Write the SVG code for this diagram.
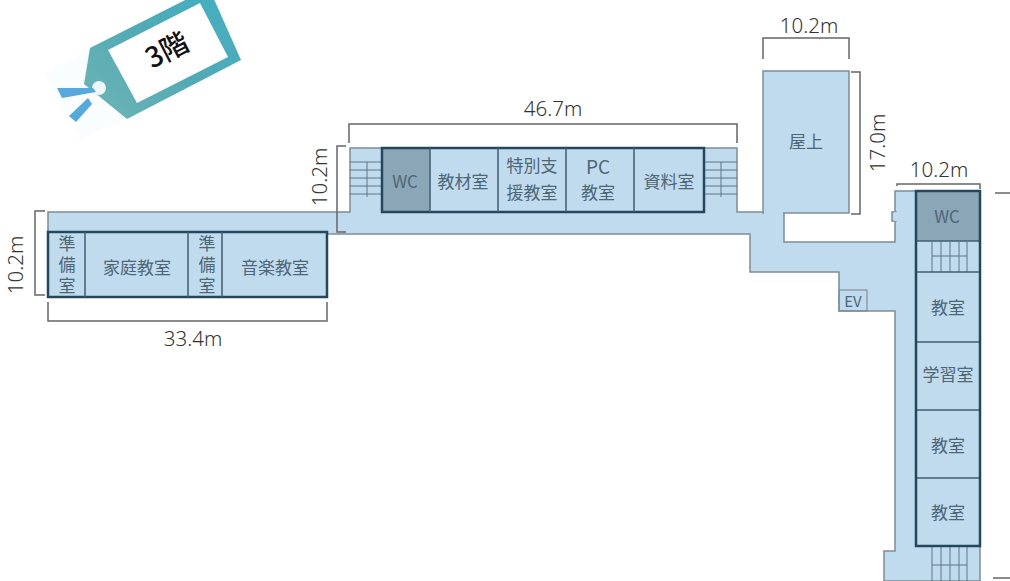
<svg xmlns="http://www.w3.org/2000/svg" width="1010" height="581" viewBox="0 0 1010 581">
<style>
.floor{fill:#c0dbed;stroke:#7d8d96;stroke-width:1.5}
.block{fill:none;stroke:#24475e;stroke-width:2.5}
.wc{fill:#8ba6b6;stroke:none}
.div{stroke:#3f5f73;stroke-width:1.5;fill:none}
.stair{stroke:#5d7686;stroke-width:1;fill:none}
.dim{stroke:#666;stroke-width:1.5;fill:none}
.t{font-family:"Noto Sans CJK JP","Noto Sans",sans-serif;font-size:17px;fill:#4f6676;text-anchor:middle}
.v{font-family:"Noto Sans CJK JP","Noto Sans",sans-serif;font-size:17px;fill:#4f6676;writing-mode:vertical-rl;letter-spacing:4px}
.d{font-family:"Noto Sans",sans-serif;font-size:20.5px;font-weight:300;fill:#333;text-anchor:middle}
</style>
<defs>
<linearGradient id="tagfill" x1="0" y1="1" x2="1" y2="0">
<stop offset="0" stop-color="#6fb5b5"/><stop offset="0.5" stop-color="#52aab5"/><stop offset="1" stop-color="#3fb0c4"/>
</linearGradient>
</defs>
<g id="tag">
<polygon points="45,72 88,50 128,118 80,140" fill="#fafdfd"/>
<polygon points="90,48 209,-12 241,60 127,119 84,84" fill="url(#tagfill)"/>
<polygon points="108,50 200,3 228,57 137,103" fill="#fff"/>
<circle cx="99" cy="88" r="7" fill="#eef7f8"/>
<polygon points="57,88 93,88 96,92 62,98" fill="#55a9dc"/>
<polygon points="69,116 88,98 92,104 76,122" fill="#55a9dc"/>
<text x="167" y="60" transform="rotate(-27.5 167 50)" font-family="'Noto Sans CJK JP',sans-serif" font-size="28" font-weight="500" fill="#111" text-anchor="middle">3階</text>
</g>
<g id="floor-plan">
<path class="floor" d="M48,212 H350 V148 H737 V212 H784 V242 H895 V191 H980 V581 H884 V551 H895 V311 H839 V272 H750 V234 H327 V297 H48 Z"/>
<rect class="floor" x="763" y="71" width="86" height="142"/>
<rect x="764" y="205" width="19" height="12" fill="#c0dbed"/>
<rect class="floor" x="892" y="212" width="4" height="9"/>
<rect x="894" y="212" width="3" height="9" fill="#c0dbed"/>
</g>
<g id="stairs">
<path class="stair" d="M350,162 H382 M350,170 H382 M350,178 H382 M350,186 H382 M350,194 H382 M367,162 V197"/>
<path class="stair" d="M704,162 H737 M704,170 H737 M704,178 H737 M704,186 H737 M704,194 H737 M721,162 V197"/>
<path class="stair" d="M932,242 V272 M941,242 V272 M950,242 V272 M959,242 V272 M967,242 V272 M932,256 H967"/>
<path class="stair" d="M932,547 V581 M941,547 V581 M950,547 V581 M959,547 V581 M967,547 V581 M932,565 H967"/>
</g>
<g id="room-south-wing">
<rect class="block" x="48" y="232" width="279" height="65"/>
<path class="div" d="M85,232 V297 M188,232 V297 M222,232 V297"/>
<text class="v" x="67" y="235">準備室</text>
<text class="t" x="137" y="274">家庭教室</text>
<text class="v" x="207" y="235">準備室</text>
<text class="t" x="275" y="274">音楽教室</text>
</g>
<g id="room-center-wing">
<rect class="wc" x="382" y="148" width="48" height="64"/>
<rect class="block" x="382" y="148" width="322" height="64"/>
<path class="div" d="M430,148 V212 M498,148 V212 M566,148 V212 M634,148 V212"/>
<text class="t" x="405" y="188">WC</text>
<text class="t" x="463" y="188">教材室</text>
<text class="t" x="532" y="172">特別支</text><text class="t" x="532" y="199">援教室</text>
<text class="t" x="598" y="174" style="font-size:19px">PC</text><text class="t" x="598" y="199">教室</text>
<text class="t" x="669" y="188">資料室</text>
</g>
<g id="room-roof"><text class="t" x="806" y="148">屋上</text></g>
<g id="room-ev">
<rect x="839" y="290" width="28" height="21" fill="none" stroke="#7d8d96" stroke-width="1.2"/>
<text class="t" x="853" y="307" style="font-size:15px">EV</text>
</g>
<g id="room-east-wing">
<rect class="wc" x="916" y="191" width="64" height="50"/>
<path class="div" d="M916,241 H980 M916,272 H980 M916,342 H980 M916,410 H980 M916,478 H980"/>
<rect class="block" x="916" y="191" width="64" height="355"/>
<text class="t" x="947" y="223">WC</text>
<text class="t" x="948" y="314">教室</text>
<text class="t" x="948" y="381">学習室</text>
<text class="t" x="948" y="452">教室</text>
<text class="t" x="948" y="519">教室</text>
</g>
<g id="dimensions">
<path class="dim" d="M349,143 V124 H737 V143"/>
<path class="dim" d="M48,302 V321 H327 V302"/>
<path class="dim" d="M45,211 H35 V295 H45"/>
<path class="dim" d="M346,146 H337 V232 H346"/>
<path class="dim" d="M763,59 V38 H849 V59"/>
<path class="dim" d="M851,72 H860 V214 H851"/>
<path class="dim" d="M897,186 V184 H980 V189"/>
<path class="dim" d="M995,193 H1010"/>
<path class="dim" d="M993,578 H1010"/>
<text class="d" x="553" y="116">46.7m</text>
<text class="d" x="193" y="346">33.4m</text>
<text class="d" x="809" y="33">10.2m</text>
<text class="d" x="939" y="177">10.2m</text>
<text class="d" transform="translate(22.5,265) rotate(-90)">10.2m</text>
<text class="d" transform="translate(327,177) rotate(-90)">10.2m</text>
<text class="d" transform="translate(885,143) rotate(-90)">17.0m</text>
</g>
</svg>
